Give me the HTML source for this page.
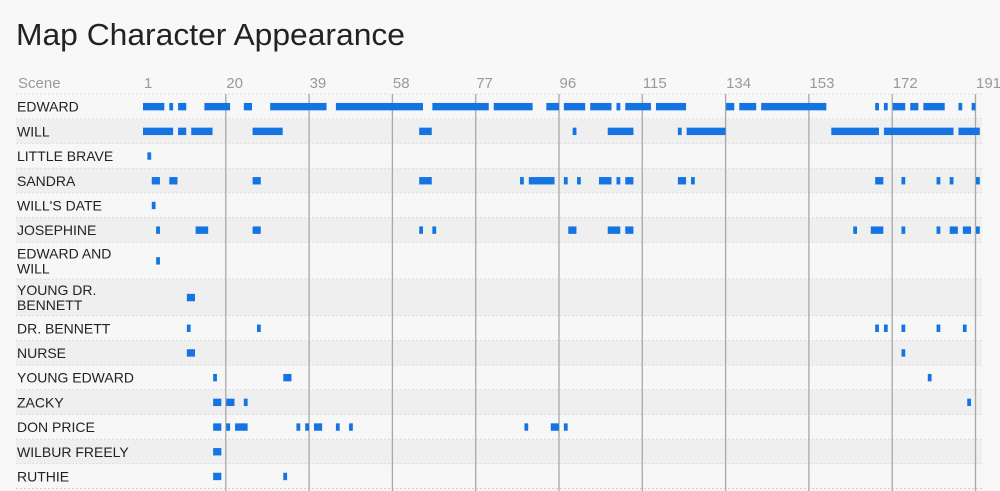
<!DOCTYPE html>
<html><head><meta charset="utf-8"><style>
html,body{margin:0;padding:0;background:#f8f8f8;width:1000px;height:491px;overflow:hidden}
svg{display:block;font-family:"Liberation Sans",sans-serif}
</style></head><body>
<svg id="chart" width="1000" height="491">
<rect width="1000" height="491" fill="#f8f8f8"/>
<text x="16" y="45" font-size="31" fill="#222" textLength="389" lengthAdjust="spacingAndGlyphs">Map Character Appearance</text>
<g id="rows"></g><g id="grid"></g><g id="bars"></g><g id="labels"></g>
</svg>
<script>
const characters = ["EDWARD","WILL","LITTLE BRAVE","SANDRA","WILL'S DATE","JOSEPHINE","EDWARD AND|WILL","YOUNG DR.|BENNETT","DR. BENNETT","NURSE","YOUNG EDWARD","ZACKY","DON PRICE","WILBUR FREELY","RUTHIE"];
const tickScenes = [1,20,39,58,77,96,115,134,153,172,191];
const edwardScenes = [[1,5],[7,7],[9,10],[15,20],[24,25],[30,42],[45,64],[67,79],[81,89],[93,95],[97,101],[103,107],[109,109],[111,116],[118,124],[134,135],[137,140],[142,156],[168,168],[170,170],[172,174],[176,177],[179,183],[187,187],[190,190]];
const willScenes = [[1,7],[9,10],[12,16],[26,32],[64,66],[99,99],[107,112],[123,123],[125,133],[158,168],[170,185],[187,191]];
const littleBraveScenes = [[2,2]];
const sandraScenes = [[3,4],[7,8],[26,27],[64,66],[87,87],[89,94],[97,97],[100,100],[105,107],[109,109],[111,112],[123,124],[126,126],[168,169],[174,174],[182,182],[185,185],[191,191]];
const willsDateScenes = [[3,3]];
const josephineScenes = [[4,4],[13,15],[26,27],[64,64],[67,67],[98,99],[107,109],[111,112],[163,163],[167,169],[174,174],[182,182],[185,186],[188,189],[191,191]];
const edwardAndWillScenes = [[4,4]];
const youngDrBennettScenes = [[11,12]];
const drBennettScenes = [[11,11],[27,27],[168,168],[170,170],[174,174],[182,182],[188,188]];
const nurseScenes = [[11,12],[174,174]];
const youngEdwardScenes = [[17,17],[33,34],[180,180]];
const zackyScenes = [[17,18],[20,21],[24,24],[189,189]];
const donPriceScenes = [[17,18],[20,20],[22,24],[36,36],[38,38],[40,41],[45,45],[48,48],[88,88],[94,95],[97,97]];
const wilburFreelyScenes = [[17,18]];
const ruthieScenes = [[17,18],[33,33]];
const seriesScenes = [edwardScenes,willScenes,littleBraveScenes,sandraScenes,willsDateScenes,josephineScenes,edwardAndWillScenes,youngDrBennettScenes,drBennettScenes,nurseScenes,youngEdwardScenes,zackyScenes,donPriceScenes,wilburFreelyScenes,ruthieScenes];

const NS="http://www.w3.org/2000/svg";
const x0=143, step=83.3/19;
function xScale(s){return x0+(s-1)*step;}
const rowHeights=characters.map(c=>c.indexOf('|')>=0?36.7:24.7);
const rowTop=[];let yy=94.3;rowHeights.forEach(h=>{rowTop.push(yy);yy+=h;});
function mk(tag,attrs,parent){const e=document.createElementNS(NS,tag);for(const k in attrs)e.setAttribute(k,attrs[k]);parent.appendChild(e);return e;}
const gRows=document.getElementById('rows'),gGrid=document.getElementById('grid'),gBars=document.getElementById('bars'),gLab=document.getElementById('labels');
// header
const sc=mk('text',{x:18,y:88,'font-size':15,fill:'#999'},gLab);sc.textContent='Scene';


mk('line',{x1:16,x2:982,y1:94.3,y2:94.3,stroke:'#c8c8c8','stroke-dasharray':'2,2'},gRows);
characters.forEach((c,i)=>{
  const t=rowTop[i],h=rowHeights[i];
  const r=mk('rect',{x:16,y:t,width:966,height:h,fill:i%2?'#efefef':'#f7f7f7'},gRows);
  
  
  mk('line',{x1:16,x2:982,y1:t+h,y2:t+h,stroke:'#c8c8c8','stroke-dasharray':'2,2'},gRows);
  const parts=c.split('|');
  const lab=mk('text',{x:17,'font-size':14,fill:'#222'},gLab);
  
  
  if(parts.length===1){lab.setAttribute('y',t+h/2+5);lab.textContent=c;}
  else{parts.forEach((p,k)=>{const ts=mk('tspan',{x:17,y:t+h/2-2.5+k*15},lab);ts.textContent=p;});}
  seriesScenes[i].forEach(seg=>{
    const b=mk('rect',{x:xScale(seg[0]),y:t+h/2-3.7,width:(seg[1]-seg[0]+1)*step-0.6,height:7.4,fill:'#1474e2'},gBars);
    
    
  });
});
tickScenes.forEach((s,i)=>{
  const x=xScale(s);
  const tl=mk('text',{x:x+(i===0?1:0),y:88,'font-size':15,fill:'#999'},gLab);tl.textContent=s;
  
  
  if(i>0){const l=mk('line',{x1:x-0.5,x2:x-0.5,y1:94,y2:491,stroke:'#a8a8a8','stroke-width':1.3},gGrid);
    
    }
});
</script>
</body></html>
